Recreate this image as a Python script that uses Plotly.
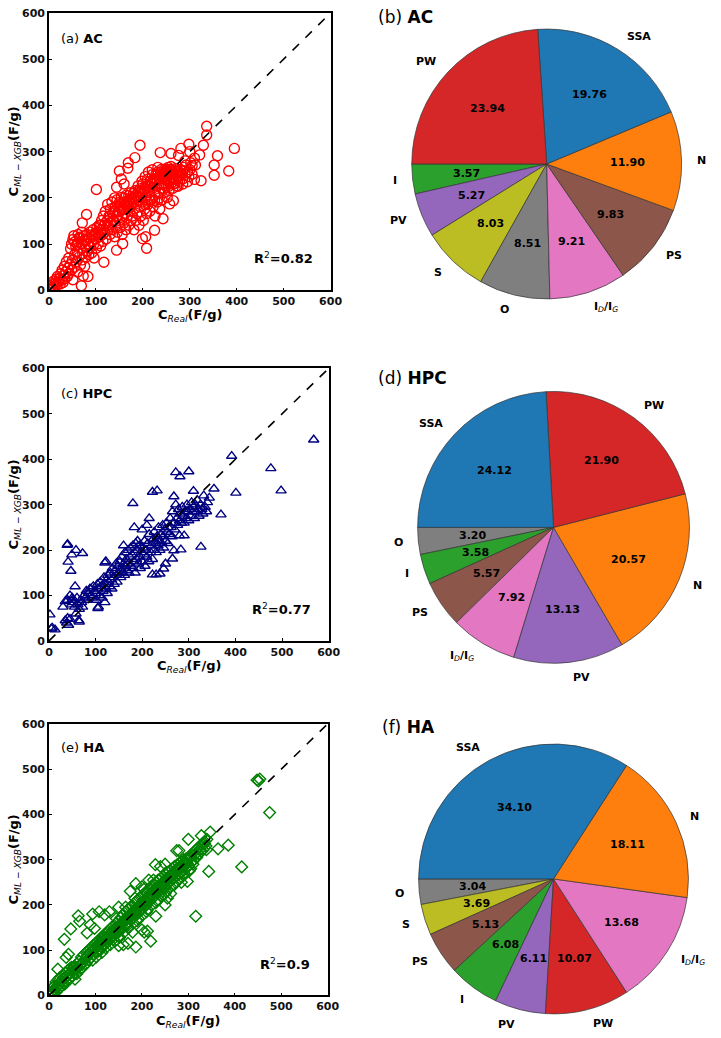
import math
import plotly.graph_objects as go

W, H = 721, 1038

# ---------------- scatter data (C_real, C_pred) ----------------
ac_pairs = [
    (2, 3), (4, 10), (5, 6), (8, 4), (9, 14), (10, 20), (12, 9), (14, 16), (15, 24), (17, 11),
    (18, 30), (20, 18), (22, 26), (24, 14), (25, 36), (27, 22), (28, 44), (30, 17), (31, 32), (33, 52),
    (34, 25), (36, 40), (37, 62), (39, 30), (40, 48), (42, 70), (43, 37), (45, 56), (46, 90), (48, 44),
    (48, 100), (50, 65), (51, 110), (53, 118), (54, 50), (55, 78), (57, 96), (58, 62), (60, 85), (61, 40),
    (62, 121), (63, 104), (64, 72), (66, 112), (67, 55), (68, 92), (70, 126), (71, 66), (72, 80), (74, 108),
    (75, 118), (76, 52), (77, 96), (79, 72), (80, 121), (81, 86), (83, 101), (84, 112), (85, 77), (87, 126),
    (88, 93), (90, 106), (91, 81), (92, 116), (94, 131), (95, 99), (96, 70), (98, 121), (100, 111), (101, 91),
    (102, 136), (104, 126), (105, 101), (107, 141), (108, 116), (110, 96), (111, 131), (112, 151), (114, 121),
    (115, 106), (116, 161), (118, 141), (119, 126), (120, 171), (122, 111), (124, 151), (125, 186), (126, 136),
    (128, 161), (130, 121), (131, 176), (132, 146), (134, 191), (135, 131), (136, 166), (138, 151), (140, 116),
    (141, 181), (142, 141), (144, 161), (145, 196), (146, 126), (148, 171), (150, 151), (151, 186), (152, 136),
    (154, 201), (155, 161), (156, 121), (158, 176), (160, 146), (161, 191), (162, 166), (164, 131), (165, 206),
    (166, 156), (168, 181), (170, 141), (171, 196), (172, 171), (174, 211), (175, 151), (176, 186), (178, 161),
    (180, 201), (181, 131), (182, 176), (184, 216), (185, 151), (186, 191), (188, 166), (190, 226), (191, 201),
    (192, 141), (194, 181), (195, 211), (196, 161), (198, 236), (200, 191), (201, 151), (202, 216), (204, 176),
    (205, 246), (206, 201), (208, 166), (210, 226), (211, 186), (212, 256), (214, 211), (215, 171), (216, 236),
    (218, 196), (220, 261), (221, 221), (222, 181), (224, 241), (225, 206), (226, 161), (228, 251), (230, 226),
    (231, 191), (232, 266), (234, 211), (235, 241), (236, 176), (238, 256), (240, 221), (241, 196), (242, 246),
    (244, 231), (245, 261), (246, 211), (248, 241), (250, 226), (251, 251), (252, 201), (254, 266), (255, 236),
    (256, 216), (258, 251), (260, 231), (261, 261), (262, 241), (264, 221), (265, 256), (266, 246), (268, 231),
    (270, 263), (271, 241), (272, 226), (274, 256), (275, 246), (278, 236), (280, 261), (282, 251), (285, 241),
    (288, 266), (290, 251), (292, 271), (295, 256), (298, 246), (300, 261), (302, 276), (305, 251), (310, 286),
    (312, 271), (246, 255), (252, 258), (258, 262), (236, 248), (226, 240), (218, 232), (206, 226), (196, 215),
    (186, 205), (176, 196), (166, 185), (156, 175), (146, 160), (136, 150), (126, 142), (116, 132), (106, 120),
    (150, 170), (155, 180), (160, 175), (165, 190), (170, 185), (175, 200), (180, 190), (185, 205), (190, 195),
    (195, 220), (200, 210), (205, 220), (210, 215), (215, 225), (220, 230), (225, 235), (230, 240), (235, 230),
    (240, 250), (245, 245), (250, 240), (255, 255), (260, 250), (265, 240), (270, 250), (275, 258), (280, 248),
    (285, 258), (230, 255), (240, 262), (250, 262), (260, 268), (220, 250), (210, 240), (200, 230), (190, 215),
    (180, 210), (170, 205), (160, 200), (150, 190), (140, 170), (130, 160), (120, 145), (110, 140), (100, 125),
    (90, 120), (80, 110), (70, 100), (60, 100), (55, 105), (65, 115), (205, 185), (215, 195), (225, 195),
    (235, 200), (245, 220), (255, 225), (265, 230), (275, 225), (285, 230), (295, 235),
    # outliers
    (336, 355), (336, 336), (395, 307), (359, 291), (352, 271), (352, 249), (383, 258), (324, 237), (329, 314),
    (298, 316), (321, 293), (300, 300), (281, 307), (260, 296), (237, 298), (194, 314), (183, 287), (169, 276),
    (168, 264), (150, 258), (154, 241), (144, 223), (101, 218), (80, 164), (71, 146), (199, 112), (206, 116),
    (208, 91), (144, 87), (157, 101), (225, 130), (243, 155), (265, 194), (257, 187), (117, 61), (73, 31),
    (83, 30), (69, 10), (51, 23), (310, 240), (305, 270), (290, 280), (276, 292), (160, 230), (140, 200),
]

hpc_pairs = [
    (35, 45), (38, 40), (40, 50), (42, 35), (45, 48), (48, 80), (50, 90), (52, 85), (55, 75), (58, 60),
    (60, 95), (62, 80), (64, 45), (65, 70), (68, 90), (70, 85), (72, 75), (75, 100), (78, 95), (80, 110),
    (82, 90), (85, 105), (88, 115), (90, 100), (92, 95), (95, 120), (98, 110), (100, 105), (102, 90), (104, 125),
    (105, 115), (106, 75), (108, 100), (110, 130), (112, 120), (114, 95), (116, 110), (118, 140), (120, 125),
    (122, 115), (124, 135), (125, 105), (126, 145), (128, 130), (130, 120), (132, 150), (134, 135), (135, 115),
    (136, 160), (138, 140), (140, 125), (142, 155), (144, 170), (145, 145), (146, 130), (148, 165), (150, 150),
    (152, 175), (154, 140), (155, 160), (156, 185), (158, 150), (160, 170), (162, 145), (163, 195), (164, 165),
    (166, 180), (168, 155), (170, 200), (170, 170), (172, 150), (174, 185), (175, 205), (176, 165), (178, 190),
    (180, 160), (180, 210), (182, 175), (184, 195), (185, 150), (186, 215), (188, 180), (190, 200), (192, 170),
    (194, 210), (195, 185), (196, 160), (198, 195), (200, 175), (202, 205), (204, 190), (205, 220), (206, 165),
    (208, 200), (210, 185), (212, 215), (214, 175), (215, 235), (218, 195), (220, 210), (222, 180), (224, 225),
    (225, 200), (226, 240), (228, 215), (230, 195), (232, 230), (234, 210), (235, 250), (236, 220), (238, 200),
    (240, 235), (242, 215), (244, 255), (245, 230), (246, 205), (248, 245), (250, 220), (252, 260), (254, 240),
    (255, 215), (256, 250), (258, 235), (260, 270), (262, 250), (264, 230), (265, 285), (268, 260), (270, 245),
    (272, 300), (274, 270), (276, 255), (278, 290), (280, 265), (282, 280), (284, 260), (286, 295), (288, 275),
    (290, 260), (292, 285), (295, 270), (296, 300), (298, 285), (300, 265), (302, 290), (304, 275), (306, 305),
    (308, 285), (310, 295), (312, 270), (314, 300), (316, 285), (318, 310), (320, 290), (322, 275), (325, 300),
    (328, 290), (330, 280), (332, 320), (335, 295), (338, 285), (340, 305),
    # outliers
    (40, 213), (39, 211), (58, 200), (72, 193), (49, 190), (41, 174), (47, 154), (56, 120), (122, 175),
    (120, 172), (180, 303), (183, 250), (222, 328), (232, 331), (272, 371), (300, 373), (281, 362), (392, 407),
    (568, 443), (476, 380), (498, 331), (401, 326), (354, 335), (344, 315), (369, 278), (310, 330), (268, 318),
    (326, 207), (283, 201), (222, 146), (230, 146), (238, 148), (246, 159), (265, 181), (268, 199), (250, 170),
    (290, 232), (280, 232), (105, 72), (65, 42), (120, 85), (2, 58), (7, 29), (13, 25), (5, 27), (35, 87),
    (30, 75), (40, 90), (50, 95), (45, 100), (210, 255), (200, 245), (190, 220), (160, 210), (215, 270),
]

ha_pairs = [
    (3, 5), (5, 2), (7, 10), (8, 18), (10, 6), (12, 22), (13, 12), (15, 30), (16, 8), (18, 20),
    (20, 35), (20, 14), (22, 26), (24, 40), (25, 18), (27, 32), (28, 22), (30, 45), (30, 28), (32, 38),
    (34, 25), (35, 50), (36, 40), (38, 30), (40, 55), (40, 44), (42, 36), (44, 58), (45, 48), (46, 38),
    (48, 62), (50, 52), (50, 42), (52, 60), (55, 65), (55, 50), (58, 58), (60, 70), (60, 48), (62, 62),
    (65, 75), (65, 55), (68, 68), (70, 85), (70, 60), (72, 72), (75, 90), (75, 65), (78, 80), (80, 95),
    (80, 70), (82, 88), (85, 100), (85, 78), (88, 92), (90, 105), (90, 84), (92, 98), (94, 78), (95, 110),
    (96, 90), (98, 102), (100, 115), (100, 95), (102, 85), (104, 108), (105, 120), (106, 98), (108, 112),
    (110, 125), (110, 100), (112, 118), (114, 95), (115, 130), (116, 110), (118, 122), (120, 135), (120, 112),
    (122, 105), (124, 128), (125, 140), (126, 118), (128, 132), (130, 145), (130, 122), (132, 112), (134, 138),
    (135, 150), (136, 128), (138, 142), (140, 155), (140, 132), (142, 120), (144, 148), (145, 160), (146, 138),
    (148, 152), (150, 165), (150, 140), (152, 128), (154, 158), (155, 172), (156, 148), (158, 162), (160, 178),
    (160, 150), (162, 140), (164, 168), (165, 185), (166, 158), (168, 172), (170, 190), (170, 160), (172, 150),
    (174, 178), (175, 195), (176, 168), (178, 182), (180, 198), (180, 170), (182, 160), (184, 188), (185, 205),
    (186, 178), (188, 192), (190, 210), (190, 180), (192, 170), (194, 198), (195, 215), (196, 188), (198, 202),
    (200, 220), (200, 190), (202, 178), (204, 208), (205, 225), (206, 198), (208, 212), (210, 228), (210, 200),
    (212, 190), (214, 218), (215, 235), (216, 208), (218, 222), (220, 240), (220, 212), (222, 200), (224, 230),
    (225, 245), (226, 218), (228, 232), (230, 250), (230, 222), (232, 210), (234, 240), (235, 255), (236, 228),
    (238, 242), (240, 258), (240, 232), (242, 220), (244, 248), (245, 262), (246, 238), (248, 252), (250, 268),
    (250, 242), (252, 230), (254, 258), (255, 272), (256, 248), (258, 262), (260, 275), (260, 252), (262, 240),
    (264, 265), (265, 280), (266, 258), (268, 270), (270, 285), (270, 260), (272, 250), (274, 275), (275, 288),
    (276, 265), (278, 278), (280, 292), (280, 268), (282, 258), (284, 282), (285, 295), (286, 272), (288, 285),
    (290, 300), (290, 278), (292, 268), (294, 290), (295, 302), (296, 282), (298, 292), (300, 305), (300, 285),
    (302, 275), (305, 310), (308, 295), (310, 315), (312, 300), (315, 320), (318, 305), (320, 325), (322, 312),
    (325, 330), (328, 318), (330, 335), (332, 322), (335, 340), (338, 330), (340, 345),
    (105, 112), (112, 108), (118, 128), (124, 118), (130, 135), (136, 140), (142, 138), (148, 146), (154, 150),
    (160, 162), (166, 168), (172, 172), (178, 176), (184, 182), (190, 192), (196, 196), (202, 200), (208, 206),
    (214, 212), (220, 222), (226, 226), (232, 234), (238, 236), (244, 244), (250, 252), (256, 256), (262, 262),
    (268, 266), (274, 272), (280, 282), (286, 288), (292, 294), (298, 298), (110, 118), (125, 125), (140, 145),
    (155, 158), (170, 175), (185, 188), (200, 205), (215, 220), (230, 235), (245, 250), (260, 265), (275, 280),
    (290, 292), (305, 305), (315, 312), (325, 322), (335, 335), (145, 170), (165, 195), (185, 215), (205, 235),
    (225, 255), (150, 130), (170, 150), (190, 165), (210, 185), (230, 205), (250, 225), (270, 245), (290, 265),
    (310, 290),
    # outliers
    (448, 476), (454, 478), (451, 474), (475, 404), (415, 284), (386, 332), (364, 324), (344, 274), (339, 322),
    (347, 361), (328, 353), (316, 175), (300, 345), (275, 320), (298, 252), (229, 289), (187, 247), (219, 120),
    (187, 107), (63, 176), (66, 164), (94, 180), (108, 185), (47, 147), (33, 124), (37, 84), (42, 91), (19, 58),
    (56, 36), (54, 62), (212, 142), (89, 156), (82, 138), (98, 148), (120, 178), (130, 185), (150, 195),
    (175, 230), (200, 240), (215, 255), (240, 285), (250, 290), (150, 110), (160, 112), (170, 115), (180, 140),
    (200, 145), (205, 140), (230, 175), (250, 200), (255, 215), (262, 225), (285, 250), (305, 280), (280, 320),
]

diag = [0, 600]
tick_vals = [0, 100, 200, 300, 400, 500, 600]

# ---------------- pie data (counter-clockwise from 9 o'clock) ----------------
ac_labels = ["I", "PV", "S", "O", "ID/IG", "PS", "N", "SSA", "PW"]
ac_values = [3.57, 5.27, 8.03, 8.51, 9.21, 9.83, 11.90, 19.76, 23.94]

hpc_labels = ["O", "I", "PS", "ID/IG", "PV", "N", "PW", "SSA"]
hpc_values = [3.20, 3.58, 5.57, 7.92, 13.13, 20.57, 21.90, 24.12]

ha_labels = ["O", "S", "PS", "I", "PV", "PW", "ID/IG", "N", "SSA"]
ha_values = [3.04, 3.69, 5.13, 6.08, 6.11, 10.07, 13.68, 18.11, 34.10]

slice_colors = {
    "SSA": "#1f77b4", "N": "#ff7f0e", "I": "#2ca02c", "PW": "#d62728", "PV": "#9467bd",
    "PS": "#8c564b", "ID/IG": "#e377c2", "O": "#7f7f7f", "S": "#bcbd22",
}
label_text = {"ID/IG": "<b>I</b><sub><i>D</i></sub><b>/I</b><sub><i>G</i></sub>"}

FONT = "DejaVu Sans"

fig = go.Figure()
annotations = []


def fx(p):
    return p / W


def fy(p):
    return 1 - p / H


def ann(text, x, y, size, xanchor="center", yanchor="middle", angle=0):
    annotations.append(dict(
        text=text, x=fx(x), y=fy(y), xref="paper", yref="paper", showarrow=False,
        xanchor=xanchor, yanchor=yanchor, textangle=angle,
        font=dict(family=FONT, size=size, color="black"),
    ))


panels = [
    dict(pairs=ac_pairs, sym="circle-open", size=10, color="#ff0000", box=(46, 334, 7, 288),
         tag="(a) <b>AC</b>", r2="0.82", xt=313, tagy=33, r2y=255),
    dict(pairs=hpc_pairs, sym="triangle-up-open", size=9, color="#000080", box=(46, 332, 367, 643),
         tag="(c) <b>HPC</b>", r2="0.77", xt=669, tagy=392, r2y=611),
    dict(pairs=ha_pairs, sym="diamond-open", size=9, color="#008000", box=(46, 331, 727, 1002),
         tag="(e) <b>HA</b>", r2="0.9", xt=1028, tagy=751, r2y=970),
]

layout_axes = {}
for i, p in enumerate(panels, start=1):
    sx = "" if i == 1 else str(i)
    l, r, t, b = p["box"]
    fig.add_trace(go.Scatter(
        x=[q[0] for q in p["pairs"]], y=[q[1] for q in p["pairs"]], mode="markers",
        marker=dict(symbol=p["sym"], size=p["size"], color=p["color"],
                    line=dict(width=1.4, color=p["color"])),
        xaxis="x" + sx, yaxis="y" + sx, showlegend=False,
    ))
    fig.add_trace(go.Scatter(
        x=diag, y=diag, mode="lines", line=dict(color="black", width=1.6, dash="dash"),
        xaxis="x" + sx, yaxis="y" + sx, showlegend=False,
    ))
    common = dict(range=[0, 600], tickvals=tick_vals, ticks="inside", ticklen=3, tickwidth=1.2,
                  tickcolor="black", showline=True, linecolor="black", linewidth=1.6, mirror=True,
                  showgrid=False, zeroline=False,
                  tickfont=dict(family=FONT, size=11, color="#111", weight="bold"))
    layout_axes["xaxis" + sx] = dict(domain=[fx(l), fx(r)], anchor="y" + sx, **common)
    layout_axes["yaxis" + sx] = dict(domain=[fy(b), fy(t)], anchor="x" + sx, **common)

    ann(p["tag"], l + 10, p["tagy"], 13, xanchor="left")
    ann("<b>R</b><sup>2</sup><b>=" + p["r2"] + "</b>", r - 16, p["r2y"], 13, xanchor="right")
    ann("<b>C</b><sub><i>Real</i></sub><b>(F/g)</b>", (l + r) / 2, p["xt"], 13)
    ann("<b>C</b><sub><i>ML − XGB</i></sub><b>(F/g)</b>", 11, (t + b) / 2, 13, angle=-90)

pies = [
    dict(labels=ac_labels, values=ac_values, cx=555, cy=160, r=138, title="(b) <b>AC</b>", tx=380, ty=11),
    dict(labels=hpc_labels, values=hpc_values, cx=562, cy=528, r=139, title="(d) <b>HPC</b>", tx=380, ty=377),
    dict(labels=ha_labels, values=ha_values, cx=562, cy=884, r=138, title="(f) <b>HA</b>", tx=385, ty=730),
]

for pie in pies:
    cx, cy, rad = pie["cx"], pie["cy"], pie["r"]
    total = sum(pie["values"])
    # first slice starts at 9 o'clock and runs counter-clockwise
    rot = -90 - pie["values"][0] / total * 360
    fig.add_trace(go.Pie(
        labels=pie["labels"], values=pie["values"], sort=False, direction="counterclockwise",
        rotation=rot, textinfo="none", hoverinfo="label+value", showlegend=False,
        marker=dict(colors=[slice_colors[k] for k in pie["labels"]],
                    line=dict(color="#333333", width=0.7)),
        domain=dict(x=[fx(cx - rad), fx(cx + rad)], y=[fy(cy + rad), fy(cy - rad)]),
    ))
    cum = 0.0
    for lab, v in zip(pie["labels"], pie["values"]):
        a = math.radians(180 + (cum + v / 2) / total * 360)
        cum += v
        ca, sa = math.cos(a), math.sin(a)
        lx, ly = cx + 1.1 * rad * ca, cy - 1.1 * rad * sa
        ann(label_text.get(lab, "<b>" + lab + "</b>"), lx, ly, 11,
            xanchor="left" if ca > 0 else "right")
        px_, py_ = cx + 0.6 * rad * ca, cy - 0.6 * rad * sa
        ann("<b>%.2f</b>" % v, px_, py_, 11)
    ann(pie["title"], pie["tx"], pie["ty"], 17, xanchor="left")

fig.update_layout(
    width=W, height=H, margin=dict(l=0, r=0, t=0, b=0),
    paper_bgcolor="white", plot_bgcolor="white",
    font=dict(family=FONT, color="black"),
    annotations=annotations, showlegend=False,
    **layout_axes,
)

fit_js = (
    "document.documentElement.style.margin='0';document.body.style.margin='0';"
    "document.documentElement.style.overflow='hidden';"
    "var gd=document.getElementById('{plot_id}');"
    "var w=window.innerWidth,h=window.innerHeight;"
    "if(w>0&&h>0){gd.style.width=w+'px';gd.style.height=h+'px';"
    "Plotly.relayout(gd,{width:w,height:h});}"
)

fig.write_html(
    "out.html",
    config={"displayModeBar": False, "responsive": False},
    post_script=fit_js,
)
